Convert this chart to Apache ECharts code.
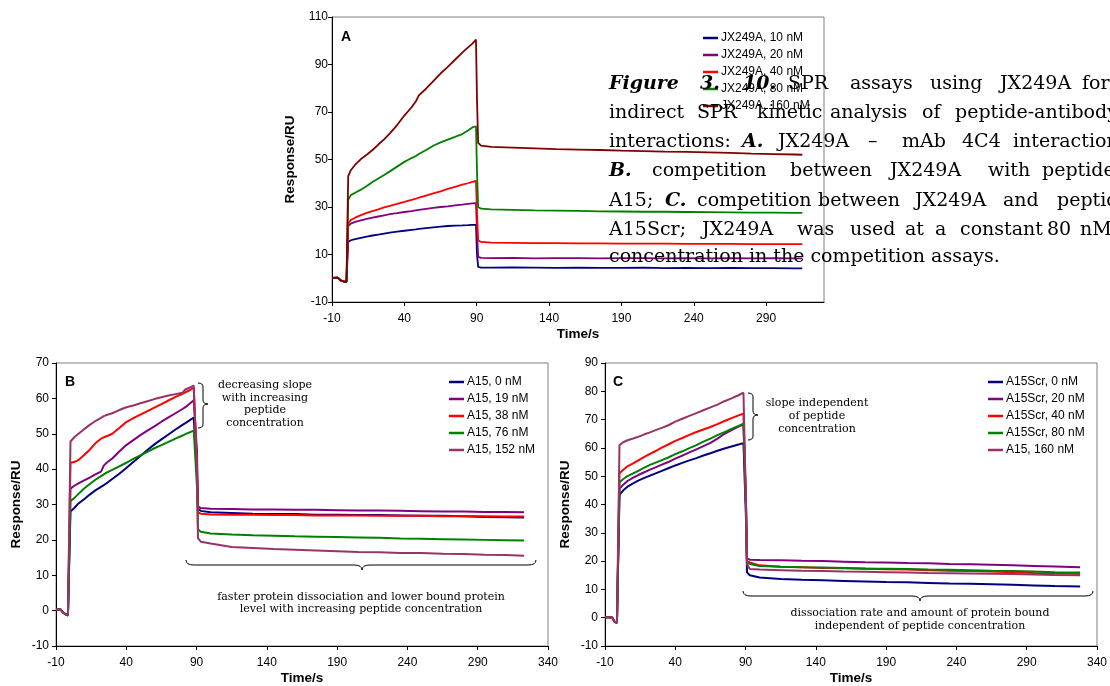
<!DOCTYPE html>
<html>
<head>
<meta charset="utf-8">
<title>SPR assays JX249A</title>
<script src="https://cdn.jsdelivr.net/npm/echarts@6.0.0/dist/echarts.min.js"></script>
<style>
  html, body { margin: 0; padding: 0; background: #fff; }
  #chart { width: 1110px; height: 686px; }
</style>
</head>
<body>
<div id="chart"></div>
<script>
// panel A : JX249A - mAb 4C4
const timeA = [-10, -6, -4, -2, 0, 0.6, 1.2, 3, 6, 10, 14, 18, 22, 26, 30, 35, 40, 45, 48, 50, 55, 60, 65, 70, 75, 80, 84, 87, 89.5, 90.2, 91, 93, 100, 115, 130, 145, 160, 175, 190, 205, 220, 235, 250, 265, 280, 295, 310, 315]
const baseA = [0.2, 0.3, -0.9, -1.3, -1.5, -1.2]
const jx10 = baseA.concat([15.3, 16, 16.5, 17, 17.5, 18, 18.4, 18.8, 19.2, 19.6, 20, 20.4, 20.6, 20.8, 21.1, 21.4, 21.7, 22, 22.2, 22.3, 22.4, 22.5, 22.5, 10, 4.8, 4.5, 4.5, 4.6, 4.5, 4.4, 4.5, 4.4, 4.4, 4.5, 4.3, 4.4, 4.3, 4.4, 4.3, 4.3, 4.2, 4.2])
const jx20 = baseA.concat([22, 23, 23.7, 24.4, 25, 25.5, 26, 26.5, 27, 27.4, 27.9, 28.3, 28.6, 28.8, 29.2, 29.6, 30, 30.3, 30.7, 31, 31.3, 31.5, 31.6, 20, 9, 8.6, 8.5, 8.6, 8.4, 8.5, 8.5, 8.4, 8.5, 8.5, 8.4, 8.5, 8.4, 8.5, 8.4, 8.5, 8.4, 8.4])
const jx40 = baseA.concat([23, 24.5, 25.5, 26.6, 27.5, 28.3, 29, 29.8, 30.5, 31.3, 32.2, 33, 33.5, 33.9, 34.8, 35.7, 36.6, 37.6, 38.5, 39.4, 40, 40.6, 41, 28, 16, 15.3, 15, 14.9, 14.8, 14.8, 14.7, 14.7, 14.6, 14.6, 14.6, 14.5, 14.5, 14.5, 14.4, 14.4, 14.4, 14.4])
const jx80 = baseA.concat([33, 35, 36, 37.3, 38.8, 40.5, 42, 43.5, 45, 47, 49, 50.6, 51.5, 52.3, 54, 55.8, 57.2, 58.4, 59.5, 60.7, 62.2, 63.5, 64, 45, 30, 29.3, 29, 28.8, 28.6, 28.5, 28.4, 28.2, 28.1, 28, 28, 27.9, 27.8, 27.7, 27.6, 27.6, 27.5, 27.5])
const jx160 = baseA.concat([43, 45.5, 47.8, 50.2, 52, 54, 56.3, 58.5, 61, 64.5, 68.5, 72, 74.5, 77, 79.8, 83, 86.2, 89, 92, 95, 97.2, 98.8, 100.5, 75, 57, 55.8, 55.3, 55, 54.7, 54.4, 54.2, 54, 53.7, 53.5, 53.3, 53.2, 53, 52.8, 52.5, 52.3, 52.1, 52])

// panel B : competition with A15
const timeB = [-10, -7, -5, -3, -1.5, -0.3, 0.3, 3, 6, 10, 14, 18, 22, 24, 26, 30, 35, 40, 45, 50, 55, 60, 65, 70, 75, 80, 82, 85, 88, 89.3, 90.3, 91, 93, 100, 115, 130, 145, 160, 175, 190, 205, 220, 235, 250, 265, 280, 295, 310, 323]
const baseB = [0.3, 0.4, -0.5, -1.1, -1.3, -1.3]
const a15_0 = baseB.concat([28, 29, 30.3, 31.5, 32.8, 34, 35, 35.5, 36, 37.2, 38.7, 40.3, 42, 43.7, 45.4, 47, 48.4, 49.8, 51.2, 52.5, 53, 53.8, 54.6, 55, 38, 28.8, 28.2, 27.8, 27.6, 27.4, 27.3, 27.3, 27.1, 27.1, 27, 27, 26.9, 26.8, 26.8, 26.7, 26.5, 26.4, 26.3])
const a15_19 = baseB.concat([34.5, 35.3, 36, 36.8, 37.6, 38.5, 39.3, 41, 41.8, 43, 45, 46.8, 48.2, 49.6, 50.9, 52.1, 53.4, 54.6, 55.8, 57, 57.5, 58.5, 59.5, 60, 45, 29.5, 29, 28.8, 28.7, 28.6, 28.6, 28.5, 28.5, 28.4, 28.3, 28.3, 28.2, 28.1, 28, 28, 27.9, 27.9, 27.8])
const a15_38 = baseB.concat([41.8, 42, 42.6, 44, 45.5, 47.3, 48.6, 49, 49.3, 50, 51.6, 53.3, 54.4, 55.4, 56.4, 57.4, 58.4, 59.4, 60.4, 61.3, 61.7, 62.3, 63, 63.3, 40, 27.8, 27.4, 27.2, 27.1, 27.1, 27, 27, 26.9, 26.9, 26.9, 26.8, 26.8, 26.8, 26.7, 26.7, 26.7, 26.6, 26.6])
const a15_76 = baseB.concat([31, 31.8, 33, 34.5, 35.8, 37, 38, 38.5, 39, 39.8, 40.8, 41.8, 42.9, 43.9, 44.9, 45.9, 46.8, 47.7, 48.6, 49.5, 49.9, 50.4, 50.9, 51.2, 35, 23, 22.3, 21.8, 21.5, 21.3, 21.2, 21, 20.9, 20.8, 20.7, 20.6, 20.4, 20.3, 20.2, 20.1, 20, 19.9, 19.8])
const a15_152 = baseB.concat([47.8, 49, 50, 51.3, 52.5, 53.6, 54.5, 55, 55.3, 55.8, 56.7, 57.5, 58, 58.6, 59.2, 59.8, 60.3, 60.8, 61.2, 61.6, 62.5, 63, 63.6, 63.8, 40, 20.5, 19.5, 19, 18, 17.7, 17.4, 17.2, 17, 16.8, 16.6, 16.5, 16.3, 16.3, 16.1, 16, 15.8, 15.7, 15.5])

// panel C : competition with A15Scr
const timeC = [-10, -7, -5, -3, -1.5, -0.3, 0.3, 3, 6, 10, 14, 18, 22, 26, 30, 35, 40, 45, 50, 55, 60, 65, 70, 75, 80, 85, 88.5, 89.3, 90.3, 91, 93, 100, 115, 130, 145, 160, 175, 190, 205, 220, 235, 250, 265, 280, 295, 310, 328]
const baseC = [0.2, 0.2, 0.1, -1.5, -1.8, -1.7]
const scr0 = baseC.concat([43.5, 45, 46.3, 47.5, 48.5, 49.4, 50.2, 51, 51.8, 52.8, 53.8, 54.7, 55.6, 56.4, 57.3, 58.1, 59, 59.8, 60.5, 61.2, 61.7, 61.5, 35, 16, 15, 14.2, 13.7, 13.4, 13.2, 13, 12.8, 12.6, 12.5, 12.3, 12.1, 12, 11.8, 11.6, 11.4, 11.2, 11])
const scr20 = baseC.concat([45.5, 47, 48.3, 49.5, 50.5, 51.4, 52.3, 53.1, 54, 55, 56.2, 57.3, 58.4, 59.5, 60.6, 61.8, 63.3, 65, 66.3, 67.5, 68.3, 68, 40, 21, 20.5, 20.4, 20.3, 20.1, 20, 19.8, 19.6, 19.5, 19.3, 19.2, 19, 18.9, 18.7, 18.5, 18.3, 18.1, 17.8])
const scr40 = baseC.concat([51, 52.3, 53.5, 54.5, 55.7, 56.8, 57.9, 58.9, 60, 61.2, 62.5, 63.5, 64.6, 65.6, 66.5, 67.4, 68.4, 69.5, 70.5, 71.5, 72.1, 72, 40, 20, 19.5, 18.5, 18, 17.8, 17.6, 17.5, 17.3, 17.1, 17, 16.8, 16.6, 16.5, 16.3, 16.1, 15.8, 15.6, 15.5])
const scr80 = baseC.concat([47.8, 49, 50, 51, 52, 53, 54, 54.8, 55.6, 56.6, 57.8, 58.8, 59.9, 61, 62.2, 63.3, 64.5, 65.6, 66.7, 67.8, 68.6, 68.4, 40, 19.5, 19, 18.3, 18, 17.8, 17.7, 17.6, 17.4, 17.3, 17.2, 17, 16.9, 16.8, 16.6, 16.5, 16.3, 16.1, 16])
const a15_160 = baseC.concat([61, 62, 62.7, 63.3, 64, 64.8, 65.5, 66.3, 67, 68, 69.3, 70.3, 71.3, 72.3, 73.3, 74.3, 75.3, 76.5, 77.5, 78.6, 79.5, 79.2, 40, 19, 17.2, 17, 16.8, 16.6, 16.5, 16.3, 16.2, 16.1, 16, 15.8, 15.7, 15.6, 15.5, 15.4, 15.3, 15.1, 15])

const namesA = ['JX249A, 10 nM', 'JX249A, 20 nM', 'JX249A, 40 nM', 'JX249A, 80 nM', 'JX249A, 160 nM']
const namesB = ['A15, 0 nM', 'A15, 19 nM', 'A15, 38 nM', 'A15, 76 nM', 'A15, 152 nM']
const namesC = ['A15Scr, 0 nM', 'A15Scr, 20 nM', 'A15Scr, 40 nM', 'A15Scr, 80 nM', 'A15, 160 nM']

const SANS = 'Liberation Sans, Arial, sans-serif'
const SERIF = 'DejaVu Serif, serif'

const chart = echarts.init(document.getElementById('chart'))

function trace(name, times, values, color, idx, width) {
  return {
    name: name,
    type: 'line',
    xAxisIndex: idx,
    yAxisIndex: idx,
    data: times.map((t, i) => [t, values[i]]),
    showSymbol: false,
    symbol: 'none',
    lineStyle: { color: color, width: width },
    itemStyle: { color: color },
    emphasis: { disabled: true },
    animation: false
  }
}

function xAxis(idx, max, showMax) {
  return {
    type: 'value', gridIndex: idx, min: -10, max: max, interval: 50,
    name: 'Time/s', nameLocation: 'middle', nameGap: 25,
    nameTextStyle: { fontFamily: SANS, fontSize: 13.5, fontWeight: 'bold', color: '#000' },
    axisLine: { onZero: false, lineStyle: { color: '#000', width: 1 } },
    axisTick: { show: true, inside: false, length: 4, lineStyle: { color: '#000' } },
    axisLabel: { fontFamily: SANS, fontSize: 12, color: '#000', margin: 11, showMaxLabel: showMax },
    splitLine: { show: false }
  }
}

function yAxis(idx, max, interval, margin, gap) {
  return {
    type: 'value', gridIndex: idx, min: -10, max: max, interval: interval,
    name: 'Response/RU', nameLocation: 'middle', nameGap: gap,
    nameTextStyle: { fontFamily: SANS, fontSize: 13.5, fontWeight: 'bold', color: '#000' },
    axisLine: { onZero: false, lineStyle: { color: '#000', width: 1 } },
    axisTick: { show: true, inside: false, length: 4, lineStyle: { color: '#000' } },
    axisLabel: { fontFamily: SANS, fontSize: 12, color: '#000', margin: margin },
    splitLine: { show: false }
  }
}

function legend(names, left, top) {
  return {
    data: names, left: left, top: top, orient: 'vertical', padding: 0,
    icon: 'rect', itemWidth: 15, itemHeight: 2.5, itemGap: 3, selectedMode: false,
    textStyle: { fontFamily: SANS, fontSize: 12, lineHeight: 14, color: '#000', padding: [0, 0, 0, -2] }
  }
}

function txt(text, x, y, opts) {
  opts = opts || {}
  return {
    type: 'text', x: x, y: y, z: 100,
    style: {
      text: text, fill: '#000',
      font: (opts.style || '') + ' ' + (opts.size || 11) + 'px ' + (opts.family || SERIF),
      align: opts.align || 'left', verticalAlign: 'middle'
    }
  }
}

function curve(x1, y1, cx, cy, x2, y2) {
  return { type: 'bezierCurve', z: 50, shape: { x1: x1, y1: y1, cpx1: cx, cpy1: cy, x2: x2, y2: y2 }, style: { stroke: '#000', fill: null, lineWidth: 1 } }
}
function seg(x1, y1, x2, y2) {
  return { type: 'line', z: 50, shape: { x1: x1, y1: y1, x2: x2, y2: y2 }, style: { stroke: '#000', lineWidth: 1 } }
}
// right-facing curly brace
function braceRight(x0, y0, y1, ym, w) {
  const xm = x0 + w / 2, r = 4
  return [
    curve(x0, y0, xm, y0, xm, y0 + r), seg(xm, y0 + r, xm, ym - r),
    curve(xm, ym - r, xm, ym, x0 + w, ym), curve(x0 + w, ym, xm, ym, xm, ym + r),
    seg(xm, ym + r, xm, y1 - r), curve(xm, y1 - r, xm, y1, x0, y1)
  ]
}
// downward curly brace
function braceDown(xl, xr, yt, xm, h) {
  const ym = yt + h / 2, yp = yt + h, r = 8
  return [
    curve(xl, yt, xl, ym, xl + r, ym), seg(xl + r, ym, xm - r, ym),
    curve(xm - r, ym, xm, ym, xm, yp), curve(xm, yp, xm, ym, xm + r, ym),
    seg(xm + r, ym, xr - r, ym), curve(xr - r, ym, xr, ym, xr, yt)
  ]
}

// caption words: [text, left x, bold-italic]
const captionLines = [
  [84, [['Figure', 609, 1], ['3.', 700, 1], ['10.', 743, 1], ['SPR', 788], ['assays', 850], ['using', 930], ['JX249A', 1000], ['for', 1082]]],
  [113, [['indirect', 609], ['SPR', 697], ['kinetic', 757], ['analysis', 830], ['of', 922], ['peptide-antibody', 955]]],
  [142, [['interactions:', 609], ['A.', 742, 1], ['JX249A', 778], ['\u2013', 868], ['mAb', 902], ['4C4', 962], ['interaction;', 1013]]],
  [171, [['B.', 609, 1], ['competition', 652], ['between', 790], ['JX249A', 890], ['with', 988], ['peptide', 1042]]],
  [201, [['A15;', 609], ['C.', 665, 1], ['competition', 697], ['between', 818], ['JX249A', 915], ['and', 1003], ['peptide', 1057]]],
  [230, [['A15Scr;', 609], ['JX249A', 702], ['was', 797], ['used', 850], ['at', 905], ['a', 935], ['constant', 960], ['80', 1047], ['nM', 1080]]],
  [257, [['concentration in the competition assays.', 609]]]
]

const graphics = []
captionLines.forEach(([y, words]) => {
  words.forEach(w => {
    graphics.push(txt(w[0], w[1], y, { size: 19, style: w[2] ? 'italic bold' : '' }))
  })
})

// panel letters
graphics.push(txt('A', 341, 37, { size: 14, style: 'bold', family: SANS }))
graphics.push(txt('B', 65, 382, { size: 14, style: 'bold', family: SANS }))
graphics.push(txt('C', 613, 382, { size: 14, style: 'bold', family: SANS }))

// panel B notes
graphics.push(...braceRight(198, 383, 428, 404, 10))
;['decreasing slope', 'with increasing', 'peptide', 'concentration'].forEach((s, i) => {
  graphics.push(txt(s, 265, 385 + i * 12.7, { size: 11, align: 'center' }))
})
graphics.push(...braceDown(186, 536, 560, 362, 10))
graphics.push(txt('faster protein dissociation and lower bound protein', 361, 597, { size: 11, align: 'center' }))
graphics.push(txt('level with increasing peptide concentration', 361, 609, { size: 11, align: 'center' }))

// panel C notes
graphics.push(...braceRight(748, 393, 440, 415, 10))
;['slope independent', 'of peptide', 'concentration'].forEach((s, i) => {
  graphics.push(txt(s, 817, 403 + i * 13.3, { size: 11, align: 'center' }))
})
graphics.push(...braceDown(743, 1093, 591, 920, 10))
graphics.push(txt('dissociation rate and amount of protein bound', 920, 613, { size: 11, align: 'center' }))
graphics.push(txt('independent of peptide concentration', 920, 626, { size: 11, align: 'center' }))

const colors = ['#000080', '#800080', '#FF0000', '#008000']

const option = {
  backgroundColor: '#fff',
  animation: false,
  grid: [
    { left: 332, top: 17, width: 492, height: 285, show: true, borderColor: '#808080', borderWidth: 1, backgroundColor: 'transparent' },
    { left: 56, top: 363, width: 492, height: 285, show: true, borderColor: '#808080', borderWidth: 1, backgroundColor: 'transparent' },
    { left: 605, top: 363, width: 492, height: 285, show: true, borderColor: '#808080', borderWidth: 1, backgroundColor: 'transparent' }
  ],
  xAxis: [xAxis(0, 330, false), xAxis(1, 340, true), xAxis(2, 340, true)],
  yAxis: [yAxis(0, 110, 20, 4, 35), yAxis(1, 70, 10, 7, 33), yAxis(2, 90, 10, 7, 33)],
  legend: [legend(namesA, 703, 31), legend(namesB, 449, 375), legend(namesC, 988, 375)],
  series: [
    trace(namesA[0], timeA, jx10, colors[0], 0, 1.8),
    trace(namesA[1], timeA, jx20, colors[1], 0, 1.8),
    trace(namesA[2], timeA, jx40, colors[2], 0, 1.8),
    trace(namesA[3], timeA, jx80, colors[3], 0, 1.8),
    trace(namesA[4], timeA, jx160, '#800000', 0, 1.8),
    trace(namesB[0], timeB, a15_0, colors[0], 1, 2),
    trace(namesB[1], timeB, a15_19, colors[1], 1, 2),
    trace(namesB[2], timeB, a15_38, colors[2], 1, 2),
    trace(namesB[3], timeB, a15_76, colors[3], 1, 2),
    trace(namesB[4], timeB, a15_152, '#993366', 1, 2),
    trace(namesC[0], timeC, scr0, colors[0], 2, 2),
    trace(namesC[1], timeC, scr20, colors[1], 2, 2),
    trace(namesC[2], timeC, scr40, colors[2], 2, 2),
    trace(namesC[3], timeC, scr80, colors[3], 2, 2),
    trace(namesC[4], timeC, a15_160, '#993366', 2, 2)
  ],
  graphic: graphics
}

chart.setOption(option)
</script>
</body>
</html>
